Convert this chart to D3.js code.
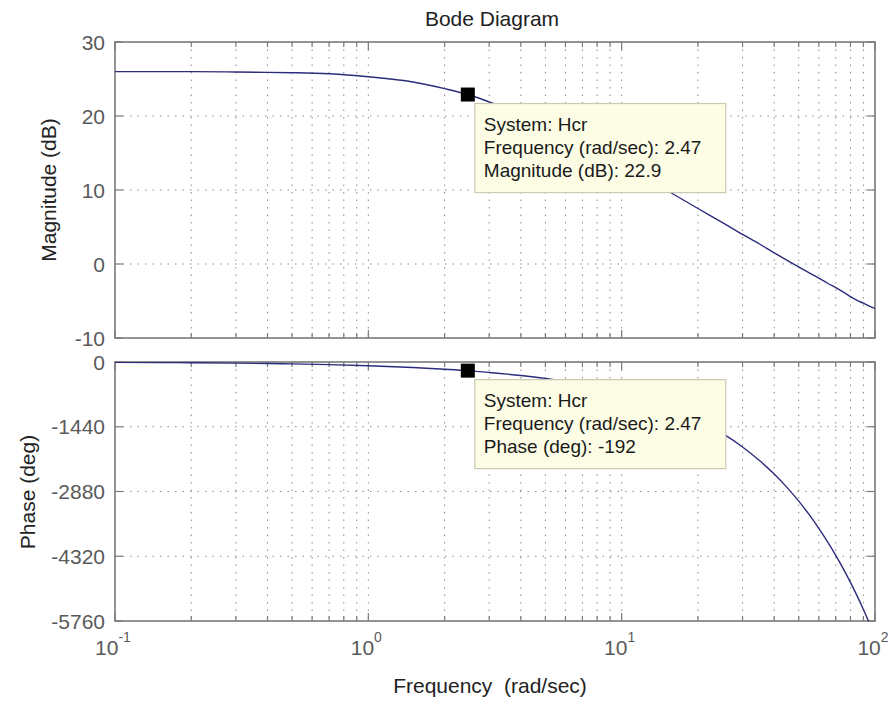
<!DOCTYPE html>
<html>
<head>
<meta charset="utf-8">
<script src="https://cdn.jsdelivr.net/npm/d3@7"></script>
<style>
  body { margin: 0; background: #fff; }
  text { font-family: "Liberation Sans", Arial, sans-serif; }
</style>
</head>
<body>
<svg width="893" height="702"></svg>
<script>
// data
const freq  = [0.1, 0.15, 0.2, 0.3, 0.4, 0.5, 0.7, 1, 1.5, 2, 2.47, 3, 4, 5, 6, 8, 10, 12, 15, 20, 25, 30, 35, 40, 45, 50, 55, 60, 65, 70, 75, 80, 85, 90, 95, 100];
const magDb = [26.0, 26.0, 26.0, 25.95, 25.9, 25.85, 25.7, 25.3, 24.6, 23.7, 22.9, 21.9, 20.3, 18.7, 17.4, 15.2, 13.4, 11.9, 10.0, 7.5, 5.6, 4.0, 2.7, 1.5, 0.5, -0.4, -1.2, -1.9, -2.6, -3.2, -3.8, -4.4, -4.9, -5.3, -5.7, -6.0];
const phaseDeg = [-8, -13, -17, -25, -34, -42, -58, -83, -122, -160, -192, -232, -300, -365, -429, -554, -678, -801, -983, -1286, -1589, -1890, -2192, -2493, -2794, -3095, -3396, -3698, -3999, -4299, -4600, -4901, -5202, -5503, -5804, -6105];

const magTicks = [-10, 0, 10, 20, 30];
const phaseTicks = [-5760, -4320, -2880, -1440, 0];
const decades = [-1, 0, 1, 2];

const tipFreq = 2.47, tipMag = 22.9, tipPhase = -192;
const magTip = ["System: Hcr", "Frequency (rad/sec): 2.47", "Magnitude (dB): 22.9"];
const phaseTip = ["System: Hcr", "Frequency (rad/sec): 2.47", "Phase (deg): -192"];

const svg = d3.select('svg');
const L = 115, R = 875;

const x = d3.scaleLog().domain([0.1, 100]).range([L, R]);
const yMag = d3.scaleLinear().domain([-10, 30]).range([338, 42]);
const yPh = d3.scaleLinear().domain([-5760, 0]).range([621, 362]);

// minor tick positions 2..9 per decade
const minor = [];
for (let d = -1; d < 2; d++) for (let k = 2; k <= 9; k++) minor.push(k * Math.pow(10, d));
const major = decades.map(d => Math.pow(10, d));

const grey = '#7a7a7a';

function panel(y, yticks, id) {
  const [b, t] = y.range();
  const g = svg.append('g');

  // grid
  g.selectAll('.gx').data(minor.concat(major.slice(1, 3))).enter().append('line')
    .attr('x1', d => x(d)).attr('x2', d => x(d)).attr('y1', t).attr('y2', b)
    .attr('stroke', '#8a8a8a').attr('stroke-width', 1).attr('stroke-dasharray', '1.5,6');
  g.selectAll('.gy').data(yticks.slice(1, -1)).enter().append('line')
    .attr('x1', L).attr('x2', R).attr('y1', d => y(d)).attr('y2', d => y(d))
    .attr('stroke', '#8a8a8a').attr('stroke-width', 1).attr('stroke-dasharray', '1.5,6');

  // ticks inside the box
  [t, b].forEach((yy, i) => {
    const dir = i === 0 ? 1 : -1;
    g.selectAll(null).data(minor).enter().append('line')
      .attr('x1', d => x(d)).attr('x2', d => x(d)).attr('y1', yy).attr('y2', yy + dir * 5)
      .attr('stroke', grey).attr('stroke-width', 1.2);
    g.selectAll(null).data(major).enter().append('line')
      .attr('x1', d => x(d)).attr('x2', d => x(d)).attr('y1', yy).attr('y2', yy + dir * 8)
      .attr('stroke', grey).attr('stroke-width', 1.2);
  });
  [L, R].forEach((xx, i) => {
    const dir = i === 0 ? 1 : -1;
    g.selectAll(null).data(yticks).enter().append('line')
      .attr('x1', xx).attr('x2', xx + dir * 8).attr('y1', d => y(d)).attr('y2', d => y(d))
      .attr('stroke', grey).attr('stroke-width', 1.2);
  });

  // y tick labels
  g.selectAll(null).data(yticks).enter().append('text')
    .attr('x', 105).attr('y', d => y(d)).attr('dy', '0.36em')
    .attr('text-anchor', 'end').attr('font-size', 21).attr('fill', '#5a5a5a')
    .text(d => d);

  // clip
  svg.append('clipPath').attr('id', id).append('rect')
    .attr('x', L).attr('y', t).attr('width', R - L).attr('height', b - t);

  // box
  g.append('rect').attr('x', L).attr('y', t).attr('width', R - L).attr('height', b - t)
    .attr('fill', 'none').attr('stroke', grey).attr('stroke-width', 1.6);
  return g;
}

panel(yMag, magTicks, 'cm');
panel(yPh, phaseTicks, 'cp');

const magLine = d3.line().x((d, i) => x(freq[i])).y(d => yMag(d)).curve(d3.curveMonotoneX);
const phLine = d3.line().x((d, i) => x(freq[i])).y(d => yPh(d)).curve(d3.curveMonotoneX);

svg.append('path').attr('d', magLine(magDb)).attr('clip-path', 'url(#cm)')
  .attr('fill', 'none').attr('stroke', '#2c2c7c').attr('stroke-width', 1.4);
svg.append('path').attr('d', phLine(phaseDeg)).attr('clip-path', 'url(#cp)')
  .attr('fill', 'none').attr('stroke', '#2c2c7c').attr('stroke-width', 1.4);

// data tips
function tip(px, py, lines) {
  svg.append('rect').attr('x', px - 7).attr('y', py - 7).attr('width', 14).attr('height', 14)
    .attr('fill', '#000');
  const bx = px + 7, by = py + 9;
  svg.append('rect').attr('x', bx).attr('y', by).attr('width', 251).attr('height', 89)
    .attr('fill', '#fdfde6').attr('stroke', '#c9c9b4').attr('stroke-width', 1.2);
  svg.selectAll(null).data(lines).enter().append('text')
    .attr('x', bx + 9).attr('y', (d, i) => by + 27 + i * 23)
    .attr('font-size', 19).attr('fill', '#1a1a1a')
    .text(d => d);
}
tip(x(tipFreq), yMag(tipMag), magTip);
tip(x(tipFreq), yPh(tipPhase), phaseTip);

// x tick labels 10^n
const xl = svg.selectAll(null).data(decades).enter().append('text')
  .attr('x', d => x(Math.pow(10, d)) - 2).attr('y', 655)
  .attr('text-anchor', 'middle').attr('font-size', 21).attr('fill', '#5a5a5a');
xl.append('tspan').text('10');
xl.append('tspan').attr('dy', -13).attr('font-size', 14).text(d => d);

// titles
svg.append('text').attr('x', 492).attr('y', 26).attr('text-anchor', 'middle')
  .attr('font-size', 21).attr('fill', '#222').text('Bode Diagram');
svg.append('text').attr('x', 490).attr('y', 693).attr('text-anchor', 'middle')
  .attr('font-size', 21).attr('fill', '#222').attr('xml:space', 'preserve').text('Frequency  (rad/sec)');
svg.append('text').attr('transform', 'translate(56,190) rotate(-90)').attr('text-anchor', 'middle')
  .attr('font-size', 21).attr('fill', '#222').text('Magnitude (dB)');
svg.append('text').attr('transform', 'translate(35,492) rotate(-90)').attr('text-anchor', 'middle')
  .attr('font-size', 21).attr('fill', '#222').text('Phase (deg)');
</script>
</body>
</html>
